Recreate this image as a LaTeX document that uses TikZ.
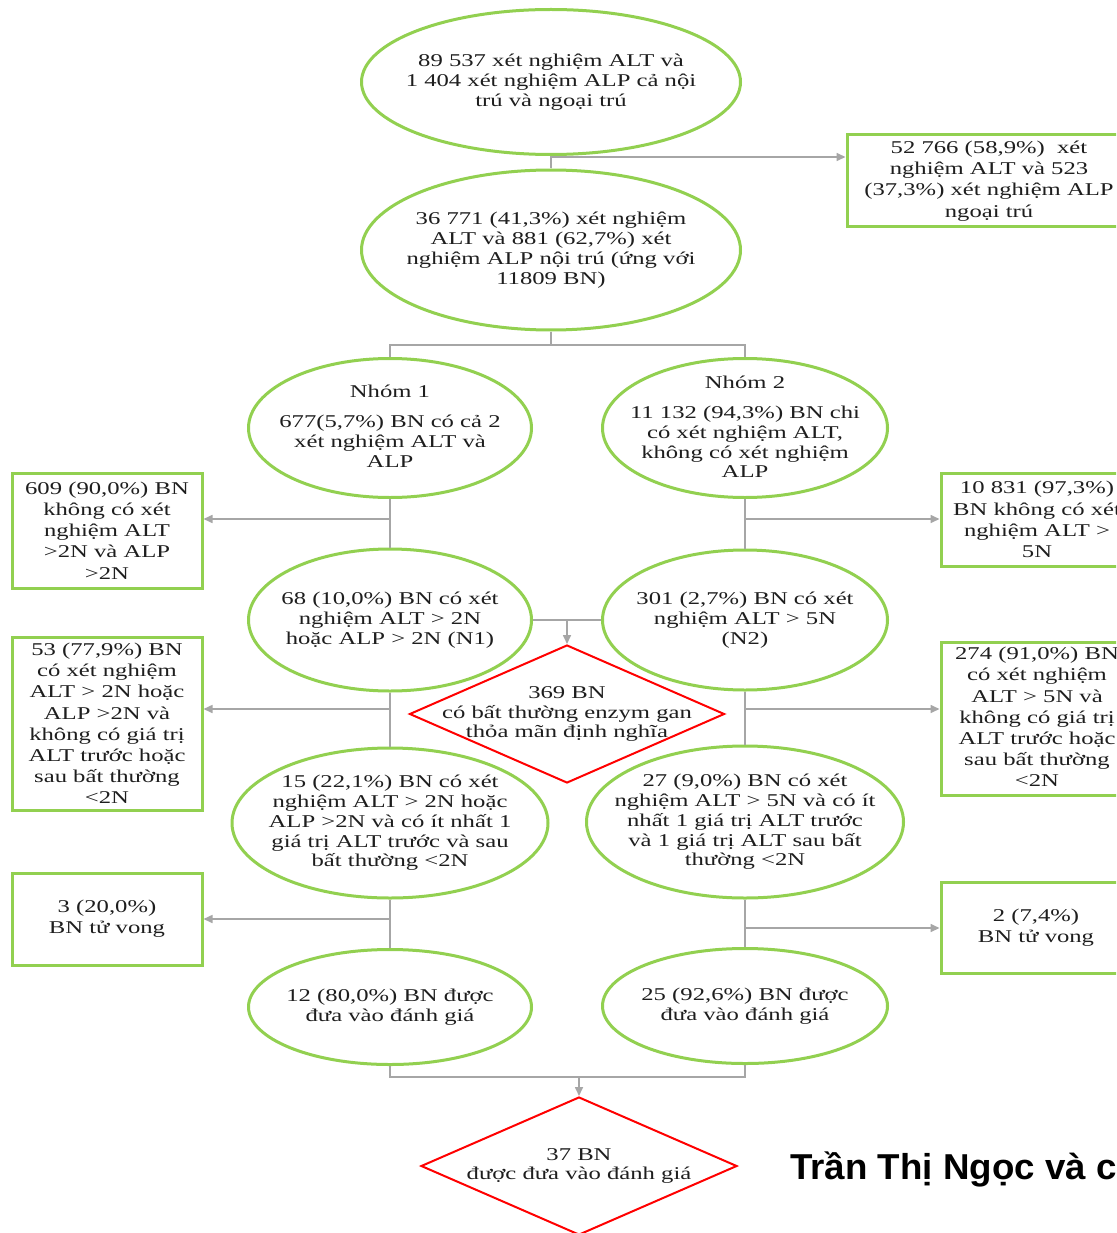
\documentclass[tikz,border=0pt]{standalone}
\usepackage{fontspec}
\setmainfont{Liberation Serif}[FakeStretch=1.37]
\newfontfamily\authorfont{Liberation Sans}[FakeStretch=1.02]
\usetikzlibrary{shapes.geometric,arrows.meta}
\definecolor{leaf}{RGB}{146,208,80}
\definecolor{alarm}{RGB}{255,0,0}
\definecolor{wire}{RGB}{166,166,166}
\definecolor{ink}{RGB}{30,30,30}

\begin{document}
\begin{tikzpicture}[x=1pt,y=-1pt,
  oval/.style={ellipse, draw=leaf, line width=3pt, inner sep=0pt},
  card/.style={rectangle, draw=leaf, line width=3pt, inner sep=0pt},
  rhomb/.style={diamond, draw=alarm, line width=2pt, inner sep=0pt},
  words/.style={align=center, text=ink, inner sep=0pt,
    font=\fontsize{18pt}{19.8pt}\selectfont},
  cardwords/.style={align=center, text=ink, inner sep=0pt,
    font=\fontsize{18pt}{21.2pt}\selectfont},
  link/.style={draw=wire, line width=1.6pt},
  feed/.style={link, -{Triangle[length=9pt,width=8pt]}},
]
\useasboundingbox (0,0) rectangle (1116,1233);
\fill[white] (0,0) rectangle (1116,1233);
\clip (0,0) rectangle (1116,1233);

% ---- ellipses
\node[oval, minimum width=379pt, minimum height=145pt] (e1) at (551,82) {};
\node[oval, minimum width=379pt, minimum height=160pt] (e2) at (551,250) {};
\node[oval, minimum width=283pt, minimum height=139pt] (g1) at (390,428) {};
\node[oval, minimum width=285pt, minimum height=139pt] (g2) at (745,428) {};
\node[oval, minimum width=283pt, minimum height=142pt] (n1) at (390,620) {};
\node[oval, minimum width=285pt, minimum height=140pt] (n2) at (745,620) {};
\node[oval, minimum width=316pt, minimum height=150pt] (m1) at (390,823) {};
\node[oval, minimum width=317pt, minimum height=152pt] (m2) at (745,822) {};
\node[oval, minimum width=283pt, minimum height=115pt] (f1) at (390,1007) {};
\node[oval, minimum width=285pt, minimum height=115pt] (f2) at (745,1006) {};

% ---- diamonds
\node[rhomb, minimum width=315pt, minimum height=138pt] (d1) at (567,714) {};
\node[rhomb, minimum width=316pt, minimum height=138pt] (d2) at (579,1166) {};

% ---- side boxes
\node[card, minimum width=278pt, minimum height=92pt] (b1) at (986,181) {};
\node[card, minimum width=190pt, minimum height=115pt] (l1) at (107,530.5) {};
\node[card, minimum width=190pt, minimum height=93pt] (r1) at (1036,519.5) {};
\node[card, minimum width=190pt, minimum height=173pt] (l2) at (107,723.5) {};
\node[card, minimum width=190pt, minimum height=153pt] (r2) at (1036,718.5) {};
\node[card, minimum width=190pt, minimum height=92pt] (l3) at (107,919) {};
\node[card, minimum width=190pt, minimum height=91pt] (r3) at (1036,927.5) {};

% ---- junction points
\coordinate (j1) at (551,157);
\coordinate (j2) at (551,345);
\coordinate (ja) at (390,519);
\coordinate (jb) at (745,519);
\coordinate (jm) at (567,620);
\coordinate (jc) at (390,709);
\coordinate (jd) at (745,709);
\coordinate (je) at (390,919);
\coordinate (jf) at (745,928);
\coordinate (j4) at (579,1077);

% ---- connectors
\draw[link] (e1.south) -- (e2.north);
\draw[feed] (j1) -- (j1 -| b1.west);
\draw[link] (e2.south) -- (j2);
\draw[link] (g1.north) |- (j2) -| (g2.north);
\draw[link] (g1.south) -- (n1.north);
\draw[link] (g2.south) -- (n2.north);
\draw[feed] (ja) -- (ja -| l1.east);
\draw[feed] (jb) -- (jb -| r1.west);
\draw[link] (n1.east) -- (n2.west);
\draw[feed] (jm) -- (d1.north);
\draw[link] (n1.south) -- (m1.north);
\draw[link] (n2.south) -- (m2.north);
\draw[feed] (jc) -- (jc -| l2.east);
\draw[feed] (jd) -- (jd -| r2.west);
\draw[link] (m1.south) -- (f1.north);
\draw[link] (m2.south) -- (f2.north);
\draw[feed] (je) -- (je -| l3.east);
\draw[feed] (jf) -- (jf -| r3.west);
\draw[link] (f1.south) |- (f2.south |- j4) -- (f2.south);
\draw[feed] (j4) -- (d2.north);

% ---- texts in ellipses and diamonds
\node[words] (e1t) at (e1) {89 537 xét nghiệm ALT và\\1 404 xét nghiệm ALP cả nội\\trú và ngoại trú};
\node[words] (e2t) at (e2) {36 771 (41,3\%) xét nghiệm\\ALT và 881 (62,7\%) xét\\nghiệm ALP nội trú (ứng với\\11809 BN)};
\node[words] (g1t) at (390,426) {Nhóm 1\\[11pt]677(5,7\%) BN có cả 2\\xét nghiệm ALT và\\ALP};
\node[words] (g2t) at (745,427) {Nhóm 2\\[10pt]11 132 (94,3\%) BN chi\\có xét nghiệm ALT,\\không có xét nghiệm\\ALP};
\node[words] (n1t) at (n1) {68 (10,0\%) BN có xét\\nghiệm ALT > 2N\\hoặc ALP > 2N (N1)};
\node[words] (n2t) at (n2) {301 (2,7\%) BN có xét\\nghiệm ALT > 5N\\(N2)};
\node[words] (d1t) at (d1) {369 BN\\có bất thường enzym gan\\thỏa mãn định nghĩa};
\node[words] (m1t) at (m1) {15 (22,1\%) BN có xét\\nghiệm ALT > 2N hoặc\\ALP >2N và có ít nhất 1\\giá trị ALT trước và sau\\bất thường <2N};
\node[words] (m2t) at (m2) {27 (9,0\%) BN có xét\\nghiệm ALT > 5N và có ít\\nhất 1 giá trị ALT trước\\và 1 giá trị ALT sau bất\\thường <2N};
\node[words] (f1t) at (f1) {12 (80,0\%) BN được\\đưa vào đánh giá};
\node[words] (f2t) at (f2) {25 (92,6\%) BN được\\đưa vào đánh giá};
\node[words] (d2t) at (d2) {37 BN\\được đưa vào đánh giá};

% ---- texts in boxes
\node[cardwords] (b1t) at (989,181) {52 766 (58,9\%)\ \ xét\\nghiệm ALT và 523\\(37,3\%) xét nghiệm ALP\\ngoại trú};
\node[cardwords] (l1t) at (l1) {609 (90,0\%) BN\\không có xét\\nghiệm ALT\\>2N và ALP\\>2N};
\node[cardwords] (r1t) at (1037,519.5) {10 831 (97,3\%)\\BN không có xét\\nghiệm ALT >\\5N};
\node[cardwords] (l2t) at (l2) {53 (77,9\%) BN\\có xét nghiệm\\ALT > 2N hoặc\\ALP >2N và\\không có giá trị\\ALT trước hoặc\\sau bất thường\\<2N};
\node[cardwords] (r2t) at (1037,717) {274 (91,0\%) BN\\có xét nghiệm\\ALT > 5N và\\không có giá trị\\ALT trước hoặc\\sau bất thường\\<2N};
\node[cardwords] (l3t) at (l3) {3 (20,0\%)\\BN tử vong};
\node[cardwords] (r3t) at (r3) {2 (7,4\%)\\BN tử vong};

% ---- author line
\node[anchor=base west, inner sep=0pt, text=black,
  font=\authorfont\bfseries\fontsize{36pt}{40pt}\selectfont] (auth) at (790,1179) {Trần Thị Ngọc và c};
\end{tikzpicture}
\end{document}
